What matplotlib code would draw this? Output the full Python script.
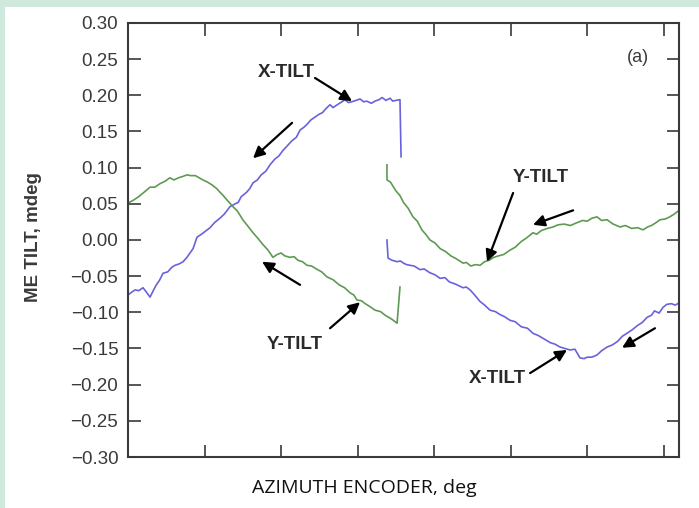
import matplotlib
matplotlib.use("Agg")
import matplotlib.pyplot as plt
from matplotlib.patches import Rectangle

# X-TILT, first sweep (azimuth deg, mdeg)
xtilt_a_az = [0, 2.5, 4.6, 7.0, 9.8, 12.0, 14.4, 16.5, 18.5, 20.5, 22.9, 26.0, 28.5, 30.7,
              33.5, 36.0, 38.5, 40.5, 42.5, 45.1, 48.0, 50.5, 53.6, 56.5, 60.0, 63.0, 66.6,
              70.0, 72.0, 74.0, 77.5, 79.5, 81.7, 84.5, 87.0, 90.0, 92.8, 96.0, 98.5, 101.3,
              104.0, 107.0, 110.0, 112.4, 115.0, 117.0, 119.5, 122.2, 125.0, 127.0, 129.5,
              132.0, 134.0, 136.0, 139.0, 141.8, 144.0, 146.0, 149.0, 151.6, 154.0, 156.0,
              159.0, 161.4, 164.0, 166.0, 168.5, 171.2, 173.0, 175.0, 177.7, 178.4]
xtilt_a_val = [-0.076, -0.072, -0.069, -0.070, -0.066, -0.072, -0.079, -0.070, -0.062, -0.056,
               -0.046, -0.044, -0.038, -0.035, -0.033, -0.030, -0.024, -0.018, -0.012, 0.004,
               0.008, 0.012, 0.017, 0.024, 0.030, 0.036, 0.046, 0.050, 0.052, 0.060, 0.066,
               0.071, 0.079, 0.083, 0.090, 0.095, 0.104, 0.112, 0.116, 0.124, 0.130, 0.137,
               0.142, 0.152, 0.156, 0.160, 0.166, 0.170, 0.174, 0.176, 0.182, 0.187, 0.183,
               0.186, 0.190, 0.194, 0.190, 0.191, 0.193, 0.195, 0.191, 0.192, 0.189, 0.192,
               0.194, 0.197, 0.193, 0.196, 0.192, 0.193, 0.194, 0.115]
# X-TILT, second sweep
xtilt_b_az = [169.2, 169.9, 172.5, 175.8, 178.0, 180.0, 182.0, 184.3, 187.0, 190.8, 193.5,
              197.0, 200.5, 203.9, 207.0, 210.0, 214.0, 218.9, 221.0, 223.5, 226.5, 230.0,
              233.0, 236.5, 240.0, 243.0, 246.0, 249.6, 253.0, 257.0, 261.0, 264.6, 268.0,
              272.0, 276.0, 279.0, 282.3, 285.5, 288.8, 292.0, 295.3, 298.0, 300.0, 303.0,
              306.4, 309.5, 313.0, 316.5, 320.0, 323.0, 326.0, 329.5, 333.0, 336.0, 339.1,
              342.0, 344.0, 347.0, 349.6, 352.0, 355.0, 357.5, 360.0]
xtilt_b_val = [0.000, -0.025, -0.028, -0.030, -0.029, -0.032, -0.034, -0.035, -0.036, -0.041,
               -0.040, -0.045, -0.048, -0.053, -0.052, -0.058, -0.061, -0.066, -0.065, -0.069,
               -0.076, -0.085, -0.090, -0.097, -0.099, -0.103, -0.106, -0.111, -0.113, -0.120,
               -0.122, -0.129, -0.132, -0.137, -0.142, -0.144, -0.148, -0.150, -0.152, -0.151,
               -0.163, -0.164, -0.162, -0.162, -0.159, -0.153, -0.148, -0.145, -0.140, -0.133,
               -0.129, -0.124, -0.118, -0.114, -0.107, -0.104, -0.098, -0.101, -0.093, -0.089,
               -0.088, -0.090, -0.087]
# Y-TILT, first sweep
ytilt_a_az = [0, 3.5, 7.0, 10.5, 14.4, 17.5, 21.0, 24.0, 27.4, 30.0, 33.0, 36.0, 38.5, 41.0,
              44.0, 46.5, 49.0, 52.0, 55.0, 58.0, 60.1, 62.0, 64.0, 66.5, 68.6, 71.5, 75.0,
              78.0, 81.7, 85.0, 88.0, 91.5, 94.7, 97.5, 100.0, 102.5, 105.8, 108.5, 111.0,
              114.0, 117.0, 120.0, 123.0, 126.5, 130.0, 134.0, 138.0, 141.5, 145.1, 147.5,
              149.6, 152.5, 155.0, 158.0, 161.4, 165.0, 168.0, 172.0, 175.8, 177.7]
ytilt_a_val = [0.051, 0.055, 0.060, 0.066, 0.073, 0.073, 0.078, 0.081, 0.086, 0.083, 0.086,
               0.088, 0.090, 0.089, 0.089, 0.086, 0.083, 0.080, 0.076, 0.071, 0.066, 0.062,
               0.057, 0.051, 0.046, 0.040, 0.028, 0.020, 0.010, 0.002, -0.006, -0.014, -0.024,
               -0.020, -0.018, -0.022, -0.024, -0.023, -0.028, -0.030, -0.035, -0.036, -0.040,
               -0.044, -0.051, -0.055, -0.062, -0.066, -0.073, -0.076, -0.083, -0.084, -0.088,
               -0.092, -0.097, -0.099, -0.104, -0.109, -0.115, -0.065]
# Y-TILT, second sweep
ytilt_b_az = [169.2, 169.2, 171.5, 175.0, 177.5, 180.0, 183.0, 186.2, 189.0, 192.0, 194.5,
              197.3, 200.5, 204.0, 207.5, 211.0, 214.5, 218.9, 221.0, 224.0, 227.0, 230.0,
              233.0, 236.0, 239.0, 242.0, 245.5, 249.6, 253.0, 257.0, 260.5, 264.6, 267.0,
              270.0, 274.0, 277.7, 281.0, 285.0, 289.0, 293.4, 297.0, 300.0, 303.0, 306.4,
              309.5, 313.0, 317.0, 321.5, 325.0, 329.0, 333.0, 336.5, 339.5, 342.0, 345.0,
              347.6, 351.0, 354.0, 357.0, 360.0]
ytilt_b_val = [0.104, 0.083, 0.080, 0.068, 0.062, 0.052, 0.044, 0.032, 0.026, 0.014, 0.008,
               0.000, -0.004, -0.012, -0.016, -0.022, -0.026, -0.032, -0.031, -0.036, -0.034,
               -0.035, -0.030, -0.028, -0.024, -0.022, -0.020, -0.014, -0.010, -0.002, 0.003,
               0.010, 0.008, 0.013, 0.016, 0.018, 0.021, 0.022, 0.020, 0.024, 0.027, 0.026,
               0.030, 0.032, 0.027, 0.028, 0.022, 0.018, 0.020, 0.016, 0.017, 0.014, 0.018,
               0.020, 0.024, 0.028, 0.029, 0.032, 0.036, 0.041]

y_ticks = [0.30, 0.25, 0.20, 0.15, 0.10, 0.05, 0.00, -0.05, -0.10, -0.15, -0.20, -0.25, -0.30]
x_ticks = [50, 100, 150, 200, 250, 300, 350]

# annotations: (label, text position, arrow tail, arrow head)
labels = [
    ("X-TILT", (103.2, 0.231), (122.2, 0.224), (146.4, 0.192)),
    ("", None, (107.2, 0.162), (81.7, 0.113)),
    ("", None, (112.4, -0.062), (87.6, -0.030)),
    ("Y-TILT", (109.1, -0.145), (132.0, -0.122), (151.6, -0.086)),
    ("Y-TILT", (269.8, 0.087), (251.6, 0.065), (234.6, -0.030)),
    ("", None, (290.8, 0.041), (264.6, 0.021)),
    ("X-TILT", (241.1, -0.191), (262.7, -0.184), (286.8, -0.152)),
    ("", None, (344.3, -0.122), (322.8, -0.149)),
]

blue = "#6a62dc"
green = "#5e9a52"
mint = "#cfe9dc"
dark = "#3a3a3a"

fig = plt.figure(figsize=(6.99, 5.08), dpi=100)
fig.patch.set_facecolor("white")
fig.patches.append(Rectangle((0, 1 - 7 / 508), 1, 7 / 508, transform=fig.transFigure,
                             facecolor=mint, edgecolor="none", zorder=0))
fig.patches.append(Rectangle((0, 0), 5 / 699, 1, transform=fig.transFigure,
                             facecolor=mint, edgecolor="none", zorder=0))

ax = fig.add_axes([128 / 699, 1 - 457 / 508, 551 / 699, 434 / 508])
ax.plot(xtilt_a_az, xtilt_a_val, color=blue, lw=1.2)
ax.plot(xtilt_b_az, xtilt_b_val, color=blue, lw=1.2)
ax.plot(ytilt_a_az, ytilt_a_val, color=green, lw=1.2)
ax.plot(ytilt_b_az, ytilt_b_val, color=green, lw=1.2)

ax.set_xlim(0, 360)
ax.set_ylim(-0.30, 0.30)
ax.set_xticks(x_ticks)
ax.set_xticklabels([])
ax.set_yticks(y_ticks)
ax.set_yticklabels([f"{v:.2f}".replace("-", "\u2212") for v in y_ticks],
                   family="Liberation Sans", fontsize=13.5, color=dark)
ax.tick_params(direction="in", length=9, width=1.2, color=dark, top=True, right=True, pad=7)
for s in ax.spines.values():
    s.set_linewidth(1.5)
    s.set_color(dark)

arrowprops = dict(arrowstyle="-|>", color="black", lw=1.6, mutation_scale=17,
                  shrinkA=0, shrinkB=0)
for text, tpos, tail, head in labels:
    if text:
        ax.text(tpos[0], tpos[1], text, ha="center", va="center", family="Liberation Sans",
                fontsize=13.5, fontweight="bold", color="#2a2a2a")
    ax.annotate("", xy=head, xytext=tail, arrowprops=arrowprops)

ax.text(333.2, 0.252, "(a)", ha="center", va="center", family="Liberation Sans",
        fontsize=13, color=dark)

fig.text(33 / 699, 1 - 237 / 508, "ME TILT, mdeg", rotation=90, ha="center", va="center",
         family="Liberation Sans", fontsize=13.5, fontweight="bold", color=dark)
fig.text(364 / 699, 1 - 488 / 508, "AZIMUTH ENCODER, deg", ha="center", va="center",
         family="Open Sans", fontsize=14, color="#111111")

fig.savefig("out.png", dpi=100)
